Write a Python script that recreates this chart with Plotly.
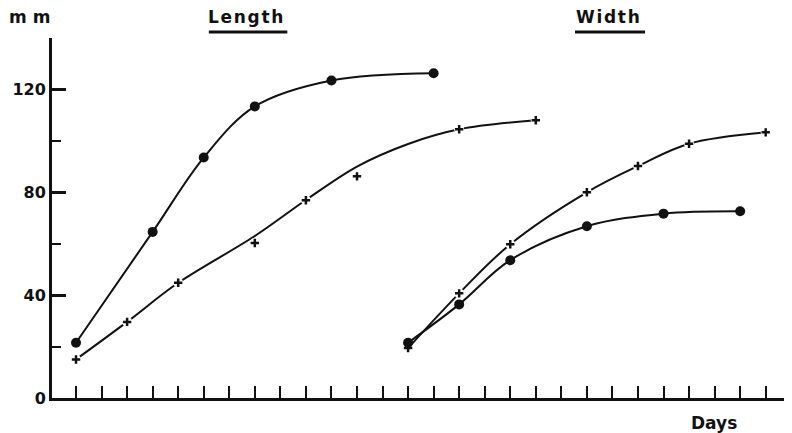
import plotly.graph_objects as go

# days (one tick per unit on the x axis)
day_ticks = list(range(0, 29))

# Length series
len_circle_day = [0, 3, 5, 7, 10, 14]
len_circle_mm = [21.5, 64.6, 93.5, 113.4, 123.5, 126.3]
len_cross_day = [0, 2, 4, 7, 9, 11, 15, 18]
len_cross_mm = [15.0, 29.6, 44.8, 60.3, 76.9, 86.2, 104.5, 108.0]
# the hand-drawn fit through the crosses does not hit every point
len_cross_fit_day = [0, 2, 4, 7, 9, 11, 13, 15, 18]
len_cross_fit_mm = [15.0, 29.6, 44.8, 63.0, 77.0, 90.0, 98.8, 104.5, 108.0]

# Width series
wid_circle_day = [13, 15, 17, 20, 23, 26]
wid_circle_mm = [21.5, 36.4, 53.6, 66.8, 71.7, 72.6]
wid_cross_day = [13, 15, 17, 20, 22, 24, 27]
wid_cross_mm = [19.4, 40.7, 59.8, 80.0, 90.2, 98.9, 103.3]

y_ticks = [0, 40, 80, 120]

FONT = "DejaVu Sans"
INK = "#111111"
HS = "\u200a"

fig = go.Figure()


def add_cross_series(x, y, fit_x, fit_y):
    # line, then white blobs to leave a gap round each mark, then the cross
    fig.add_trace(go.Scatter(x=fit_x, y=fit_y, mode="lines",
                             line=dict(color=INK, width=2, shape="spline", smoothing=1.0),
                             hoverinfo="skip"))
    fig.add_trace(go.Scatter(x=x, y=y, mode="markers",
                             marker=dict(symbol="circle", size=10, color="white"),
                             hoverinfo="skip"))
    fig.add_trace(go.Scatter(x=x, y=y, mode="markers",
                             marker=dict(symbol="cross-thin", size=6,
                                         line=dict(color=INK, width=2.5))))


def add_circle_series(x, y):
    fig.add_trace(go.Scatter(x=x, y=y, mode="lines+markers",
                             line=dict(color=INK, width=2, shape="spline", smoothing=1.0),
                             marker=dict(symbol="circle", size=10, color=INK)))


add_cross_series(len_cross_day, len_cross_mm, len_cross_fit_day, len_cross_fit_mm)
add_cross_series(wid_cross_day, wid_cross_mm, wid_cross_day, wid_cross_mm)
add_circle_series(len_circle_day, len_circle_mm)
add_circle_series(wid_circle_day, wid_circle_mm)

# page body has an 8px margin, so the figure is a bit smaller than the window
fig.update_layout(
    width=784, height=425,
    margin=dict(l=44, r=0, t=30, b=35),
    paper_bgcolor="white", plot_bgcolor="white",
    showlegend=False,
    font=dict(family=FONT, size=17, color=INK),
    xaxis=dict(
        range=[-0.94, 28.03],
        tickvals=day_ticks,
        showticklabels=False,
        ticks="inside", ticklen=12, tickwidth=2, tickcolor=INK,
        showline=True, linecolor=INK, linewidth=3,
        showgrid=False, zeroline=False, automargin=False,
    ),
    yaxis=dict(
        range=[0, 140],
        tickvals=y_ticks,
        ticks="inside", ticklen=14, tickwidth=2.5, tickcolor=INK,
        tickfont=dict(family=FONT, size=16, color=INK, weight="bold"),
        minor=dict(tick0=20, dtick=40, ticks="inside", ticklen=9,
                   tickwidth=2, tickcolor=INK, showgrid=False),
        showline=True, linecolor=INK, linewidth=3,
        showgrid=False, zeroline=False, automargin=False,
    ),
)

labels = [
    ("m m", -0.03, 1.058),
    (HS.join("Length"), 0.262, 1.058),
    (HS.join("Width"), 0.751, 1.058),
    ("Days", 0.894, -0.069),
]
for text, x, y in labels:
    fig.add_annotation(text=text, x=x, y=y, xref="paper", yref="paper",
                       xanchor="center", yanchor="middle", showarrow=False,
                       font=dict(family=FONT, size=17, color=INK, weight="bold"))

# underlines under the two headings
for x0, x1 in [(0.212, 0.318), (0.7068, 0.8014)]:
    fig.add_shape(type="line", xref="paper", yref="paper",
                  x0=x0, x1=x1, y0=1.0167, y1=1.0167,
                  line=dict(color=INK, width=3))

fig.write_html("out.html")
